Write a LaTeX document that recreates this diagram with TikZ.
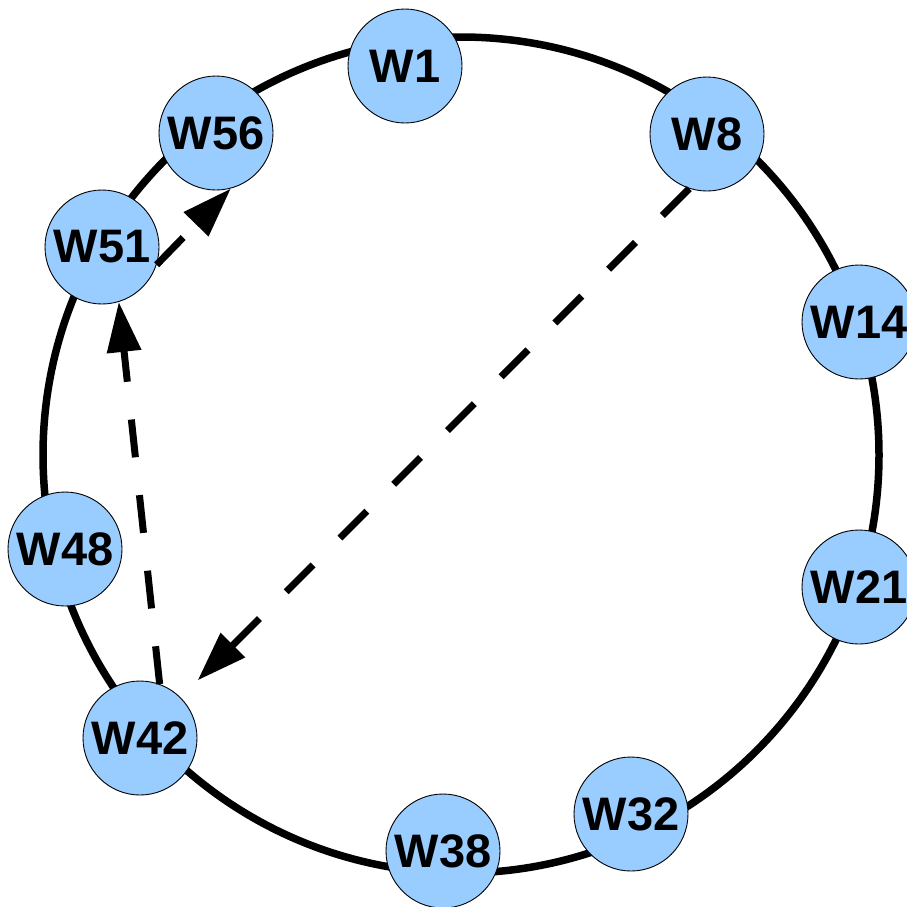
\documentclass[tikz,border=0pt]{standalone}
\usepackage{fontspec}
\setmainfont{Liberation Sans}
\usetikzlibrary{arrows.meta}
\definecolor{nodeblue}{HTML}{99CCFF}
\tikzset{
  worker/.style={circle, draw=black, line width=0.9pt, fill=nodeblue, minimum size=114pt, inner sep=0pt,
    font=\fontsize{47}{47}\selectfont\bfseries},
  ring/.style={line width=7.5pt, draw=black},
  hop/.style={line width=7pt, dash pattern=on 38pt off 38pt, -{Triangle[length=50pt,width=33pt]}}
}
\begin{document}
\begin{tikzpicture}[x=1pt,y=-1pt]
\path[use as bounding box] (0,0) rectangle (907,906);
\draw[ring] (461,455) circle (418);
\node[worker] (W1)  at (405,66)  {W1};
\node[worker] (W8)  at (707,134) {W8};
\node[worker] (W14) at (859,322) {W14};
\node[worker] (W21) at (859,587) {W21};
\node[worker] (W32) at (631,814) {W32};
\node[worker] (W38) at (443,851) {W38};
\node[worker] (W42) at (140,738) {W42};
\node[worker] (W48) at (65,549)  {W48};
\node[worker] (W51) at (102,247) {W51};
\node[worker] (W56) at (216,133) {W56};
\draw[hop, shorten >=24pt] (W8.252) -- (W42.45);
\draw[hop] (W42.70) -- (W51.287);
\draw[hop] (W51.342) -- (W56.285);
\end{tikzpicture}
\end{document}
